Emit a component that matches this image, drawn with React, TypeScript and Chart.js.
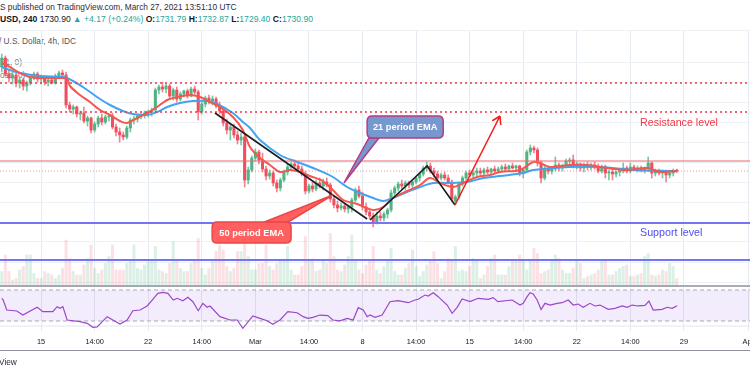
import React, { useEffect, useRef } from 'react';
import { Chart, registerables } from 'chart.js';

Chart.register(...registerables);

const FONT = '"Liberation Sans", Arial, sans-serif';

// ---- candles (4h bars), prices in USD ----
const openP = [
  1835, 1844, 1828, 1824, 1827, 1819, 1822, 1816, 1819, 1824,
  1828, 1823, 1825, 1820, 1822, 1819, 1826, 1829, 1827, 1797,
  1793, 1795, 1788, 1789, 1781, 1784, 1772, 1778, 1784, 1780,
  1785, 1786, 1775, 1770, 1767, 1765, 1774, 1782, 1783, 1786,
  1787, 1789, 1790, 1792, 1812, 1815, 1813, 1816, 1806, 1812,
  1803, 1808, 1811, 1806, 1813, 1810, 1790, 1798, 1804, 1801,
  1803, 1796, 1791, 1779, 1772, 1775, 1767, 1762, 1765, 1722,
  1732, 1744, 1750, 1742, 1733, 1726, 1729, 1719, 1714, 1722,
  1730, 1735, 1738, 1736, 1733, 1728, 1711, 1716, 1713, 1719,
  1716, 1720, 1717, 1703, 1697, 1694, 1696, 1693, 1695, 1702,
  1712, 1706, 1695, 1690, 1686, 1680, 1686, 1684, 1688, 1692,
  1709, 1714, 1718, 1716, 1719, 1717, 1720, 1724, 1728, 1734,
  1736, 1731, 1728, 1724, 1727, 1724, 1720, 1701, 1705, 1718,
  1724, 1729, 1727, 1729, 1731, 1729, 1732, 1730, 1733, 1731,
  1733, 1735, 1733, 1736, 1734, 1736, 1729, 1732, 1750, 1754,
  1752, 1739, 1724, 1733, 1731, 1733, 1737, 1734, 1736, 1741,
  1742, 1736, 1738, 1734, 1737, 1735, 1737, 1735, 1731, 1735,
  1729, 1730, 1728, 1730, 1731, 1734, 1731, 1735, 1733, 1734,
  1732, 1733, 1739, 1729, 1731, 1729, 1730, 1727, 1729, 1731.8,
];
const highP = [
  1848, 1846, 1832, 1830, 1829, 1825, 1824, 1821, 1826, 1830,
  1830, 1827, 1826, 1824, 1823, 1828, 1831, 1832, 1830, 1800,
  1797, 1796, 1791, 1795, 1786, 1785, 1780, 1786, 1788, 1787,
  1788, 1789, 1778, 1774, 1770, 1776, 1784, 1786, 1788, 1789,
  1791, 1792, 1794, 1814, 1817, 1820, 1818, 1818, 1814, 1815,
  1810, 1812, 1813, 1815, 1816, 1812, 1800, 1806, 1807, 1806,
  1805, 1800, 1793, 1783, 1778, 1778, 1771, 1769, 1767, 1735,
  1746, 1753, 1752, 1749, 1736, 1732, 1731, 1722, 1724, 1732,
  1738, 1740, 1742, 1740, 1736, 1731, 1718, 1720, 1722, 1724,
  1723, 1724, 1719, 1706, 1701, 1699, 1698, 1697, 1704, 1714,
  1716, 1710, 1699, 1693, 1689, 1690, 1690, 1690, 1694, 1712,
  1716, 1720, 1722, 1721, 1721, 1722, 1726, 1730, 1736, 1740,
  1739, 1734, 1731, 1729, 1730, 1727, 1722, 1707, 1720, 1726,
  1731, 1732, 1731, 1734, 1734, 1734, 1735, 1734, 1736, 1735,
  1737, 1738, 1737, 1739, 1737, 1737, 1734, 1752, 1757, 1756,
  1754, 1741, 1736, 1736, 1735, 1745, 1739, 1738, 1743, 1744,
  1747, 1740, 1739, 1739, 1740, 1739, 1740, 1738, 1737, 1737,
  1732, 1733, 1731, 1732, 1739, 1736, 1739, 1737, 1736, 1736,
  1735, 1745, 1740, 1733, 1733, 1732, 1732, 1731, 1733, 1732.9,
];
const lowP = [
  1830, 1826, 1820, 1818, 1815, 1814, 1812, 1811, 1817, 1822,
  1820, 1818, 1817, 1816, 1818, 1818, 1824, 1825, 1794, 1790,
  1788, 1785, 1782, 1779, 1776, 1769, 1770, 1775, 1777, 1778,
  1781, 1773, 1766, 1760, 1762, 1763, 1770, 1778, 1780, 1783,
  1784, 1785, 1786, 1790, 1808, 1810, 1809, 1804, 1802, 1800,
  1801, 1805, 1804, 1805, 1808, 1782, 1788, 1795, 1798, 1797,
  1794, 1788, 1776, 1768, 1762, 1764, 1758, 1757, 1715, 1718,
  1730, 1741, 1738, 1730, 1722, 1723, 1716, 1710, 1711, 1720,
  1727, 1732, 1734, 1730, 1726, 1708, 1709, 1710, 1711, 1714,
  1712, 1715, 1700, 1694, 1690, 1692, 1690, 1689, 1690, 1700,
  1704, 1692, 1687, 1683, 1675, 1678, 1681, 1681, 1684, 1690,
  1706, 1711, 1713, 1712, 1714, 1714, 1718, 1721, 1726, 1731,
  1729, 1725, 1721, 1722, 1722, 1718, 1701, 1697, 1703, 1716,
  1722, 1725, 1724, 1726, 1727, 1727, 1728, 1727, 1729, 1729,
  1730, 1731, 1731, 1733, 1731, 1726, 1724, 1730, 1747, 1749,
  1736, 1719, 1722, 1728, 1728, 1731, 1731, 1731, 1734, 1737,
  1734, 1733, 1731, 1730, 1732, 1732, 1733, 1729, 1729, 1724,
  1722, 1722, 1725, 1726, 1729, 1729, 1729, 1731, 1730, 1730,
  1729, 1731, 1724, 1726, 1727, 1724, 1720, 1724, 1726, 1729.4,
];
const closeP = [
  1844, 1828, 1824, 1827, 1819, 1822, 1816, 1819, 1824, 1828,
  1823, 1825, 1820, 1822, 1819, 1826, 1829, 1827, 1797, 1793,
  1795, 1788, 1789, 1781, 1784, 1772, 1778, 1784, 1780, 1785,
  1786, 1775, 1770, 1767, 1765, 1774, 1782, 1783, 1786, 1787,
  1789, 1790, 1792, 1812, 1815, 1813, 1816, 1806, 1812, 1803,
  1808, 1811, 1806, 1813, 1810, 1790, 1798, 1804, 1801, 1803,
  1796, 1791, 1779, 1772, 1775, 1767, 1762, 1765, 1722, 1732,
  1744, 1750, 1742, 1733, 1726, 1729, 1719, 1714, 1722, 1730,
  1735, 1738, 1736, 1733, 1728, 1711, 1716, 1713, 1719, 1716,
  1720, 1717, 1703, 1697, 1694, 1696, 1693, 1695, 1702, 1712,
  1706, 1695, 1690, 1686, 1680, 1686, 1684, 1688, 1692, 1709,
  1714, 1718, 1716, 1719, 1717, 1720, 1724, 1728, 1734, 1736,
  1731, 1728, 1724, 1727, 1724, 1720, 1703, 1705, 1718, 1724,
  1729, 1727, 1729, 1731, 1729, 1732, 1730, 1733, 1731, 1733,
  1735, 1733, 1736, 1734, 1736, 1729, 1732, 1750, 1754, 1752,
  1739, 1724, 1733, 1731, 1733, 1737, 1734, 1736, 1741, 1742,
  1736, 1738, 1734, 1737, 1735, 1737, 1735, 1731, 1735, 1729,
  1730, 1728, 1730, 1731, 1734, 1731, 1735, 1733, 1734, 1732,
  1733, 1739, 1729, 1731, 1729, 1730, 1727, 1729, 1731, 1730.9,
];
const volume = [
  29, 62, 29, 12, 15, 32, 39, 62, 62, 25,
  15, 15, 29, 25, 22, 15, 22, 35, 92, 55,
  29, 22, 22, 42, 55, 82, 35, 25, 32, 45,
  59, 82, 32, 32, 32, 45, 49, 82, 35, 32,
  42, 49, 49, 79, 32, 29, 25, 45, 89, 52,
  35, 29, 29, 45, 52, 95, 35, 22, 35, 52,
  69, 82, 72, 39, 29, 35, 69, 69, 85, 59,
  32, 32, 45, 45, 82, 39, 32, 45, 52, 52,
  79, 32, 22, 22, 39, 99, 52, 55, 29, 32,
  49, 45, 105, 59, 32, 29, 42, 59, 102, 52,
  32, 25, 42, 52, 79, 32, 25, 39, 52, 75,
  29, 22, 22, 35, 45, 72, 39, 19, 29, 42,
  49, 69, 45, 15, 29, 55, 52, 79, 29, 32,
  29, 39, 55, 52, 15, 22, 39, 55, 62, 22,
  22, 22, 39, 52, 52, 62, 52, 32, 52, 75,
  65, 25, 29, 32, 49, 62, 55, 32, 25, 25,
  35, 49, 45, 15, 19, 22, 25, 32, 52, 52,
  22, 22, 29, 35, 39, 42, 19, 19, 22, 25,
  59, 65, 22, 19, 22, 32, 29, 45, 39, 15,
];

// ---- EMA lines (bar index, price) ----
const emaFastIdx = [
  0, 2.3, 5.1, 7.9, 11.5, 15.5, 18.3, 19.1, 21.9, 24.7,
  27.5, 30.3, 33.1, 35.1, 37.9, 40.7, 43.5, 46.3, 49.1, 52.7,
  55.5, 58.3, 61.1, 64.7, 67.5, 69.5, 72.3, 75.1, 77.9, 80.7,
  83.5, 86.3, 89.9, 92.7, 95.6, 99.5, 104, 106.8, 109.5, 113.5,
  117.1, 119.9, 122.7, 126.4, 129.2, 133.1, 136.7, 139.5, 145.1, 148.8,
  150.7, 153.5, 159.1, 163.9, 169.5, 175.1, 180.7, 184.3, 189.1,
];
const emaFastVal = [
  1839, 1835, 1829, 1825, 1824, 1824, 1823, 1816, 1807, 1800,
  1792, 1787, 1781, 1779, 1784, 1789, 1795, 1802, 1805, 1807,
  1805, 1800, 1795, 1785, 1772, 1755, 1744, 1737, 1730, 1732,
  1730, 1726, 1721, 1712, 1702, 1698, 1692, 1695, 1704, 1711,
  1717, 1724, 1719, 1715, 1719, 1725, 1727, 1730, 1732, 1740,
  1739, 1735, 1737, 1737, 1734, 1732, 1734, 1730, 1731,
];
const emaSlowIdx = [
  0, 2.3, 5.1, 10.7, 16.3, 18.3, 22.7, 27.5, 30.3, 33.9,
  36.7, 40.7, 43.5, 46.3, 49.9, 53.5, 57.5, 60.3, 64.7, 67.5,
  69.5, 72.3, 77.9, 82.7, 87.2, 92.7, 96.7, 100.3, 104, 106.8,
  109.5, 113.5, 117.1, 120.8, 124.7, 130.3, 134.8, 139.5, 146, 148.8,
  158.3, 167.5, 176.8, 186.3, 189.1,
];
const emaSlowVal = [
  1835, 1832, 1829, 1826, 1825, 1824, 1815, 1803, 1797, 1791,
  1788, 1787, 1790, 1795, 1799, 1801, 1801, 1798, 1789, 1780,
  1774, 1762, 1747, 1740, 1734, 1725, 1715, 1709, 1704, 1701,
  1704, 1710, 1715, 1719, 1719, 1720, 1724, 1726, 1729, 1732,
  1735, 1735, 1732, 1731, 1731,
];

// ---- RSI (bar index, value) ----
const rsiIdx = [
  0, 0.4, 1.4, 4.2, 5.9, 9.9, 11.5, 14.3, 15.5, 16.3,
  17.1, 18.3, 21.9, 23.9, 25.5, 26.7, 29.5, 31.1, 33.1, 35.1,
  36.7, 38.7, 40.7, 42.3, 43.7, 45.1, 46.5, 48, 49.1, 50.7,
  52.1, 53.5, 55, 56.3, 57.5, 58.3, 61.1, 63.9, 65.9, 67.5,
  70.3, 72.3, 74.3, 75.9, 77.9, 80.1, 82.7, 84.4, 85.7, 87.1,
  89.1, 91.3, 92.7, 94.7, 96.7, 98.4, 99.8, 101.2, 102.3, 103.1,
  104.5, 106.5, 108.7, 110.9, 113.8, 115.7, 116.6, 118.5, 119.4, 120.8,
  122.2, 124.7, 126.1, 127.5, 128.9, 131.1, 133.4, 136.2, 137.6, 138.9,
  142.9, 145.1, 146, 147.1, 147.9, 148.8, 149.9, 151, 152.1, 153.5,
  155.5, 156.9, 158.6, 160, 161.4, 162.8, 164.7, 166.1, 167.5, 169.8,
  171.7, 173.7, 175.1, 176.5, 178.2, 180.1, 181.2, 182.4, 184.9, 186.3,
  187.7, 189.1,
];
const rsiVal = [
  59.3, 57.1, 44.2, 42.9, 37.7, 47.7, 42, 42, 48.5, 46.4,
  48.5, 31.3, 29.1, 27, 21.8, 22.4, 35.6, 31.3, 26.1, 31.3,
  43.3, 44.2, 49.4, 58, 65.7, 67, 65.7, 57.1, 59.3, 56.2,
  60.6, 54.9, 43.3, 52.8, 47.7, 49.4, 35.6, 31.3, 31.3, 20.6,
  36.5, 33.4, 30.4, 25.7, 31.3, 42, 40.7, 35.6, 33.4, 34.7,
  37.7, 36.9, 31.3, 30.1, 33.4, 31.3, 47.2, 44.2, 35.6, 37.7,
  34.7, 37.7, 54.9, 56.2, 53.6, 57.1, 58, 63.5, 62.2, 66.5,
  61.4, 50.6, 39.9, 47.7, 58.4, 55, 59.3, 58, 60.2, 55,
  57.1, 50.6, 52.8, 61.4, 66.5, 64.8, 57.1, 45, 52.8, 50.6,
  52.8, 53.6, 57.1, 50.6, 51.9, 47.7, 52.8, 49.4, 50.6, 45,
  46.4, 49.4, 47.7, 50.6, 49.4, 50.2, 55.8, 44.2, 45, 47.7,
  46.4, 49.8,
];

// ---- time axis ----
const tickIndex = [11, 26, 41, 56, 71, 86, 101, 116, 131, 146, 161, 176, 191, 209];
const tickLabel = ['15', '14:00', '22', '14:00', 'Mar', '14:00', '8', '14:00', '15', '14:00', '22', '14:00', '29', 'Apr'];

// ---- drawings (in bar index / price units) ----
const resistanceLevels = [1819, 1790];
const pivotLevel = 1741;
const lastClose = 1730.9;
const supportLevels = [1679, 1642];
const rsiBands = [30, 70];
const rsiFloor = 23.5;
const trendIdx = [59.7, 102.3];
const trendPrice = [1789, 1683];
const zigzagIdx = [103.1, 119.1, 126.9];
const zigzagPrice = [1682, 1736, 1697];
const projIdx = [126.9, 139.5];
const projPrice = [1697, 1786];
const ema21BoxIdx = [102.3, 123.6];
const ema21BoxPrice = [1786, 1764];
const ema21TailIdx = [102.8, 105.6, 95.8];
const ema21TailPrice = [1764, 1764, 1719];
const ema50BoxIdx = [58.9, 81.0];
const ema50BoxPrice = [1680, 1659];
const ema50TailIdx = [73.5, 80.2, 92.7];
const ema50TailPrice = [1680, 1680, 1707];
const resistanceLabelAt = [178.7, 1779];
const supportLabelAt = [178.7, 1669];

const UP = '#4fb382';
const DOWN = '#ee4e5d';

function roundRect(ctx: CanvasRenderingContext2D, x: number, y: number, w: number, h: number, r: number) {
  ctx.beginPath();
  ctx.moveTo(x + r, y);
  ctx.lineTo(x + w - r, y);
  ctx.quadraticCurveTo(x + w, y, x + w, y + r);
  ctx.lineTo(x + w, y + h - r);
  ctx.quadraticCurveTo(x + w, y + h, x + w - r, y + h);
  ctx.lineTo(x + r, y + h);
  ctx.quadraticCurveTo(x, y + h, x, y + h - r);
  ctx.lineTo(x, y + r);
  ctx.quadraticCurveTo(x, y, x + r, y);
  ctx.closePath();
}

const overlayPlugin = {
  id: 'overlay',
  beforeDatasetsDraw(chart: any) {
    const { ctx, chartArea: a, scales } = chart;
    const yr = scales.yr;
    const yv = scales.yv;
    ctx.save();
    const yTop = yr.getPixelForValue(rsiBands[1]);
    const yBot = yr.getPixelForValue(rsiBands[0]);
    ctx.fillStyle = 'rgba(149, 80, 230, 0.11)';
    ctx.fillRect(a.left, yTop, a.right - a.left, yBot - yTop);
    ctx.strokeStyle = '#a7aab3';
    ctx.lineWidth = 1;
    ctx.setLineDash([4, 3]);
    for (const y of [yTop, yBot]) {
      ctx.beginPath();
      ctx.moveTo(a.left, y);
      ctx.lineTo(a.right, y);
      ctx.stroke();
    }
    ctx.setLineDash([]);
    const yf = yr.getPixelForValue(rsiFloor);
    ctx.strokeStyle = '#e3e6ed';
    ctx.beginPath();
    ctx.moveTo(a.left, yf);
    ctx.lineTo(a.right, yf);
    ctx.stroke();
    const ys = yv.getPixelForValue(0);
    ctx.strokeStyle = '#a9acb5';
    ctx.lineWidth = 2;
    ctx.beginPath();
    ctx.moveTo(a.left, ys);
    ctx.lineTo(a.right, ys);
    ctx.stroke();
    ctx.restore();
  },
  afterDatasetsDraw(chart: any) {
    const { ctx, chartArea: a, scales } = chart;
    const px = (i: number) => scales.x.getPixelForValue(i);
    const py = (p: number) => scales.y.getPixelForValue(p);
    const hline = (p: number, color: string, width: number, dash: number[]) => {
      ctx.strokeStyle = color;
      ctx.lineWidth = width;
      ctx.setLineDash(dash);
      ctx.beginPath();
      ctx.moveTo(a.left, py(p));
      ctx.lineTo(a.right, py(p));
      ctx.stroke();
      ctx.setLineDash([]);
    };
    ctx.save();
    ctx.beginPath();
    ctx.rect(a.left, 0, a.right - a.left, a.bottom);
    ctx.clip();

    resistanceLevels.forEach((p) => hline(p, '#f23645', 1.5, [2, 3]));
    hline(pivotLevel, '#f0686a', 1.2, []);
    hline(lastClose, 'rgba(242, 54, 69, 0.5)', 1, [1, 2]);
    supportLevels.forEach((p) => hline(p, '#7474f4', 2, []));

    // black trend lines
    ctx.strokeStyle = '#1b1d24';
    ctx.lineWidth = 1.6;
    ctx.beginPath();
    ctx.moveTo(px(trendIdx[0]), py(trendPrice[0]));
    ctx.lineTo(px(trendIdx[1]), py(trendPrice[1]));
    ctx.stroke();
    ctx.beginPath();
    zigzagIdx.forEach((i, k) => {
      if (k === 0) ctx.moveTo(px(i), py(zigzagPrice[k]));
      else ctx.lineTo(px(i), py(zigzagPrice[k]));
    });
    ctx.stroke();

    // red projection arrow
    const x0 = px(projIdx[0]);
    const y0 = py(projPrice[0]);
    const x1 = px(projIdx[1]);
    const y1 = py(projPrice[1]);
    ctx.strokeStyle = '#f52020';
    ctx.lineWidth = 1.6;
    ctx.beginPath();
    ctx.moveTo(x0, y0);
    ctx.lineTo(x1, y1);
    const ang = Math.atan2(y1 - y0, x1 - x0);
    const hl = 9;
    ctx.moveTo(x1, y1);
    ctx.lineTo(x1 - hl * Math.cos(ang - 0.55), y1 - hl * Math.sin(ang - 0.55));
    ctx.moveTo(x1, y1);
    ctx.lineTo(x1 - hl * Math.cos(ang + 0.55), y1 - hl * Math.sin(ang + 0.55));
    ctx.stroke();

    const callout = (
      bi: number[], bp: number[], ti: number[], tp: number[],
      fill: string, border: string, text: string,
    ) => {
      ctx.fillStyle = fill;
      ctx.strokeStyle = border;
      ctx.lineWidth = 1.5;
      ctx.beginPath();
      ti.forEach((i, k) => {
        if (k === 0) ctx.moveTo(px(i), py(tp[k]));
        else ctx.lineTo(px(i), py(tp[k]));
      });
      ctx.closePath();
      ctx.fill();
      ctx.stroke();
      const bx = px(bi[0]);
      const by = py(bp[0]);
      const bw = px(bi[1]) - bx;
      const bh = py(bp[1]) - by;
      roundRect(ctx, bx, by, bw, bh, 5);
      ctx.fill();
      ctx.stroke();
      ctx.fillStyle = '#ffffff';
      ctx.font = 'bold 9.3px ' + FONT;
      ctx.textAlign = 'center';
      ctx.textBaseline = 'middle';
      ctx.fillText(text, bx + bw / 2, by + bh / 2 + 0.5);
    };
    callout(ema21BoxIdx, ema21BoxPrice, ema21TailIdx, ema21TailPrice, '#7797cf', '#b53a85', '21 period EMA');
    callout(ema50BoxIdx, ema50BoxPrice, ema50TailIdx, ema50TailPrice, '#ff5f5f', '#ec4747', '50 period EMA');

    ctx.font = '10.7px ' + FONT;
    ctx.textAlign = 'left';
    ctx.textBaseline = 'middle';
    ctx.fillStyle = '#f23645';
    ctx.fillText('Resistance level', px(resistanceLabelAt[0]), py(resistanceLabelAt[1]));
    ctx.fillStyle = '#4f4ff2';
    ctx.fillText('Support level', px(supportLabelAt[0]), py(supportLabelAt[1]));
    ctx.restore();
  },
};

export default function App() {
  const canvasRef = useRef<HTMLCanvasElement | null>(null);

  useEffect(() => {
    const canvas = canvasRef.current;
    if (!canvas) return;
    const idx = closeP.map((_, i) => i);
    const isUp = closeP.map((c, i) => c >= openP[i]);
    const chart = new Chart(canvas, {
      type: 'bar',
      data: {
        datasets: [
          {
            type: 'line',
            label: 'RSI',
            yAxisID: 'yr',
            data: rsiIdx.map((x, k) => ({ x, y: rsiVal[k] })),
            borderColor: '#9b47c9',
            borderWidth: 1.2,
            pointRadius: 0,
            tension: 0,
            order: 0,
          },
          {
            type: 'line',
            label: 'EMA fast',
            yAxisID: 'y',
            data: emaFastIdx.map((x, k) => ({ x, y: emaFastVal[k] })),
            borderColor: '#f3574f',
            borderWidth: 2,
            pointRadius: 0,
            tension: 0.35,
            order: 1,
          },
          {
            type: 'line',
            label: 'EMA slow',
            yAxisID: 'y',
            data: emaSlowIdx.map((x, k) => ({ x, y: emaSlowVal[k] })),
            borderColor: '#42a3f0',
            borderWidth: 2,
            pointRadius: 0,
            tension: 0.35,
            order: 2,
          },
          {
            type: 'bar',
            label: 'body',
            yAxisID: 'y',
            data: idx.map((i) => ({ x: i, y: [openP[i], closeP[i]] })) as any,
            backgroundColor: idx.map((i) => (isUp[i] ? UP : DOWN)),
            barThickness: 2.4,
            minBarLength: 1,
            grouped: false,
            order: 3,
          } as any,
          {
            type: 'bar',
            label: 'wick',
            yAxisID: 'y',
            data: idx.map((i) => ({ x: i, y: [lowP[i], highP[i]] })) as any,
            backgroundColor: idx.map((i) => (isUp[i] ? 'rgba(79,179,130,0.75)' : 'rgba(238,78,93,0.7)')),
            barThickness: 1,
            grouped: false,
            order: 4,
          } as any,
          {
            type: 'bar',
            label: 'volume',
            yAxisID: 'yv',
            data: idx.map((i) => ({ x: i, y: volume[i] })) as any,
            backgroundColor: idx.map((i) => (isUp[i] ? 'rgba(79,179,130,0.2)' : 'rgba(238,78,93,0.17)')),
            barThickness: 2.4,
            grouped: false,
            order: 5,
          } as any,
        ],
      },
      options: {
        responsive: false,
        animation: false,
        devicePixelRatio: 1,
        layout: { padding: { top: 30, left: 0, right: 0, bottom: 0 } },
        plugins: { legend: { display: false }, tooltip: { enabled: false } },
        scales: {
          x: {
            type: 'linear',
            min: -0.5,
            max: 209.5,
            offset: false,
            grid: { color: '#e6eaf1', drawTicks: false, offset: false, lineWidth: 1 },
            border: { display: false },
            ticks: {
              autoSkip: false,
              maxRotation: 0,
              padding: 7,
              color: '#131722',
              font: { size: 7.4, family: FONT },
              callback: (v: any) => {
                const k = tickIndex.indexOf(Number(v));
                return k >= 0 ? tickLabel[k] : '';
              },
            },
            afterBuildTicks: (s: any) => {
              s.ticks = tickIndex.map((v) => ({ value: v }));
            },
            afterFit: (s: any) => {
              s.height = 44;
              s.paddingLeft = 0;
              s.paddingRight = 0;
            },
          } as any,
          y: {
            type: 'linear',
            position: 'right',
            min: 1571,
            max: 1872,
            ticks: { display: false, stepSize: 20 },
            grid: {
              drawTicks: false,
              color: (c: any) => (c.tick && c.tick.value >= 1620 ? '#eef1f6' : 'rgba(0,0,0,0)'),
            },
            border: { display: false },
            afterFit: (s: any) => {
              s.width = 0;
              s.paddingTop = 0;
              s.paddingBottom = 0;
            },
          } as any,
          yv: { type: 'linear', display: false, min: -90, max: 512 },
          yr: { type: 'linear', display: false, min: 17.1, max: 405.5 },
        },
      },
      plugins: [overlayPlugin],
    });
    return () => chart.destroy();
  }, []);

  const teal = '#26a69a';
  const base: React.CSSProperties = {
    position: 'absolute',
    whiteSpace: 'nowrap',
    fontFamily: FONT,
    lineHeight: '10px',
  };
  return (
    <div style={{ position: 'fixed', left: 0, top: 0, width: 750, height: 375, background: '#ffffff', overflow: 'hidden' }}>
      <div style={{ ...base, left: 0, top: 2, fontSize: 8.3, color: '#2a2e39' }}>
        S published on TradingView.com, March 27, 2021 13:51:10 UTC
      </div>
      <div style={{ ...base, left: 0, top: 14, fontSize: 8.6, color: '#131722' }}>
        <b>USD, 240</b> 1730.90 <span style={{ color: teal }}>▲ +4.17 (+0.24%)</span>{' '}
        <b>O:</b><span style={{ color: teal }}>1731.79</span>{' '}
        <b>H:</b><span style={{ color: teal }}>1732.87</span>{' '}
        <b>L:</b><span style={{ color: teal }}>1729.40</span>{' '}
        <b>C:</b><span style={{ color: teal }}>1730.90</span>
      </div>
      <div style={{ position: 'absolute', left: 0, top: 30, width: 750, height: 1, background: '#e0e3eb' }} />
      <div style={{ ...base, left: -1, top: 36, fontSize: 8.3, color: '#50535e' }}>/ U.S. Dollar, 4h, IDC</div>
      <div style={{ ...base, left: -2, top: 57, fontSize: 8.3, color: '#787b86' }}>(21, 0)</div>
      <div style={{ ...base, left: -6, top: 70, fontSize: 8.3, color: '#787b86' }}>close, 0)</div>
      <canvas
        ref={canvasRef}
        width={750}
        height={375}
        style={{ position: 'absolute', left: 0, top: 0, width: 750, height: 375 }}
      />
      <div style={{ position: 'absolute', left: 0, top: 350, width: 750, height: 1, background: '#8f929b' }} />
      <div style={{ ...base, left: -1, top: 357, fontSize: 8.3, color: '#2a2e39' }}>View</div>
    </div>
  );
}
